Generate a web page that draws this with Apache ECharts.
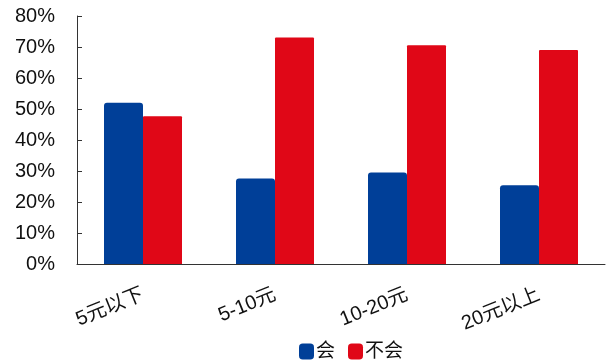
<!DOCTYPE html>
<html>
<head>
<meta charset="utf-8">
<script src="https://cdn.jsdelivr.net/npm/echarts@6/dist/echarts.min.js"></script>
<style>
  html, body { margin: 0; padding: 0; background: #fff; }
  #chart { width: 611px; height: 364px; }
</style>
</head>
<body>
<div id="chart"></div>
<script>
// Price bands and share of answers per band (percent)
const categories = ['5元以下', '5-10元', '10-20元', '20元以上'];
const seriesNames = ['会', '不会'];
const yesValues = [52.0, 27.6, 29.5, 25.4];
const noValues = [47.7, 73.1, 70.6, 69.0];
const yTicks = [0, 10, 20, 30, 40, 50, 60, 70, 80];

const fontLatin = '"Liberation Sans", Arial, "Noto Sans CJK SC", sans-serif';
const textColor = '#111';

const chart = echarts.init(document.getElementById('chart'), null, { renderer: 'canvas' });
chart.setOption({
  animation: false,
  backgroundColor: '#fff',
  color: ['#003F98', '#E00717'],
  grid: { left: 77, right: 6, top: 16, bottom: 100 },
  legend: {
    data: seriesNames,
    bottom: -2,
    left: 294,
    itemWidth: 15,
    itemHeight: 16,
    itemGap: 13,
    icon: 'roundRect',
    textStyle: { fontFamily: fontLatin, fontSize: 19, color: textColor, padding: [0, 0, 0, -3] }
  },
  xAxis: {
    type: 'category',
    data: categories,
    axisLine: { lineStyle: { color: '#333', width: 1 } },
    axisTick: { inside: true, length: 6, lineStyle: { color: '#333' } },
    axisLabel: {
      rotate: 22,
      margin: 30,
      fontFamily: fontLatin,
      fontSize: 20,
      color: textColor
    }
  },
  yAxis: {
    type: 'value',
    min: yTicks[0],
    max: yTicks[yTicks.length - 1],
    interval: 10,
    axisLine: { show: true, lineStyle: { color: '#333', width: 1 } },
    axisTick: { show: true, inside: true, length: 5, lineStyle: { color: '#333' } },
    splitLine: { show: false },
    axisLabel: {
      formatter: '{value}%',
      margin: 22,
      fontFamily: fontLatin,
      fontSize: 20,
      color: textColor
    }
  },
  series: [
    {
      name: seriesNames[0],
      type: 'bar',
      data: yesValues,
      barWidth: 39,
      barGap: '0%',
      itemStyle: { borderRadius: [3, 3, 0, 0] }
    },
    {
      name: seriesNames[1],
      type: 'bar',
      data: noValues,
      barWidth: 39,
      barGap: '0%',
      itemStyle: { borderRadius: [1, 1, 0, 0] }
    }
  ]
});
</script>
</body>
</html>
